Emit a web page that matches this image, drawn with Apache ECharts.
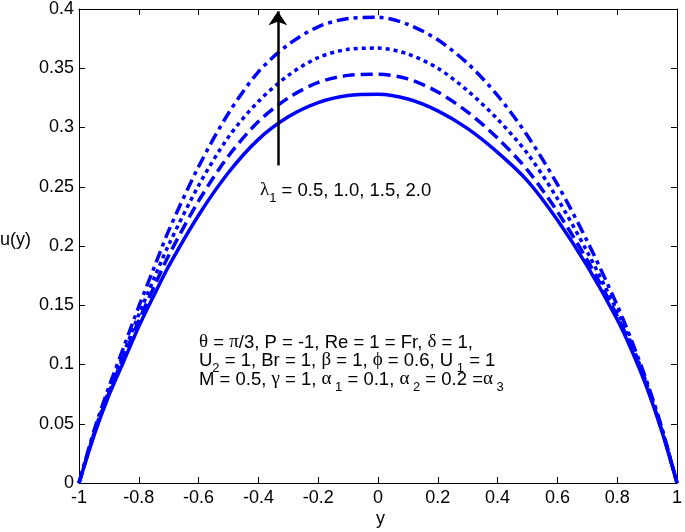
<!DOCTYPE html>
<html lang="en">
<head>
  <meta charset="UTF-8">
  <title>u(y) profiles</title>
  <script src="https://cdn.jsdelivr.net/npm/echarts@6/dist/echarts.min.js"></script>
</head>
<body style="margin:0">
<div id="main" style="width: 685px;height:532px;"></div>
<script>
  // y positions (x axis)
  var ys = [-1, -0.95, -0.9, -0.85, -0.8, -0.75, -0.7, -0.6, -0.5, -0.4, -0.3, -0.2, -0.1, 0,
            0.1, 0.2, 0.3, 0.4, 0.5, 0.6, 0.7, 0.8, 0.85, 0.9, 0.95, 1];
  // u(y) for lambda1 = 0.5, 1.0, 1.5, 2.0
  var uL05 = [0, 0.040, 0.074, 0.103, 0.132, 0.158, 0.183, 0.226, 0.262, 0.290, 0.309, 0.321, 0.327, 0.328,
              0.324, 0.314, 0.299, 0.279, 0.255, 0.222, 0.183, 0.138, 0.111, 0.080, 0.043, 0];
  var uL10 = [0, 0.041, 0.076, 0.107, 0.137, 0.165, 0.192, 0.238, 0.276, 0.305, 0.325, 0.338, 0.344, 0.345,
              0.341, 0.330, 0.313, 0.291, 0.264, 0.229, 0.188, 0.141, 0.113, 0.081, 0.044, 0];
  var uL15 = [0, 0.042, 0.078, 0.110, 0.142, 0.172, 0.201, 0.251, 0.292, 0.322, 0.344, 0.359, 0.366, 0.367,
              0.362, 0.350, 0.331, 0.307, 0.278, 0.240, 0.195, 0.145, 0.116, 0.083, 0.045, 0];
  var uL20 = [0, 0.044, 0.081, 0.115, 0.149, 0.181, 0.213, 0.267, 0.312, 0.347, 0.370, 0.385, 0.392, 0.393,
              0.387, 0.374, 0.354, 0.327, 0.293, 0.252, 0.204, 0.150, 0.119, 0.085, 0.046, 0];

  var blue = '#0000ff';
  var font = 'Liberation Sans';

  function pairs(vals) {
    return ys.map(function (y, i) { return [y, vals[i]]; });
  }
  function curve(name, vals, dash) {
    return {
      name: name,
      type: 'line',
      data: pairs(vals),
      showSymbol: false,
      smooth: 0.3,
      animation: false,
      lineStyle: { color: blue, width: 3.5, type: dash, cap: 'butt' }
    };
  }

  var frameAxis = {
    axisLine: { show: true, onZero: false, lineStyle: { color: '#000', width: 1 } },
    axisTick: { show: true, inside: true, length: 6, lineStyle: { color: '#000' } },
    splitLine: { show: false }
  };

  // rich text styles: g = greek, n = normal, s = subscript
  var richStyles = {
    g: { fontSize: 19, fontFamily: 'Liberation Serif', fill: '#000', verticalAlign: 'top', lineHeight: 20 },
    n: { fontSize: 18.5, fontFamily: font, fill: '#000', verticalAlign: 'top', lineHeight: 20 },
    s: { fontSize: 13, fontFamily: font, fill: '#000', verticalAlign: 'bottom', lineHeight: 24 }
  };
  function note(left, top, text) {
    return { type: 'text', left: left, top: top, style: { text: text, rich: richStyles } };
  }

  var myChart = echarts.init(document.getElementById('main'));
  var series = [
    curve('λ1 = 0.5', uL05, 'solid'),
    curve('λ1 = 1.0', uL10, [12, 6]),
    curve('λ1 = 1.5', uL15, [4, 4]),
    curve('λ1 = 2.0', uL20, [12, 5, 4, 5])
  ];
  // arrow showing increasing lambda1
  series[0].clip = false;
  series[0].markLine = {
    silent: true,
    symbol: ['none', 'arrow'],
    symbolSize: 14,
    label: { show: false },
    lineStyle: { color: '#000', width: 2.5, type: 'solid' },
    data: [[{ coord: [-0.335, 0.268] }, { coord: [-0.335, 0.398] }]]
  };

  var option = {
    animation: false,
    grid: { left: 79, right: 3, top: 8, bottom: 49 },
    xAxis: [
      Object.assign({
        type: 'value', min: -1, max: 1, interval: 0.2,
        axisLabel: { color: '#000', fontSize: 18, fontFamily: font, margin: 6 }
      }, frameAxis),
      Object.assign({
        type: 'value', position: 'top', min: -1, max: 1, interval: 0.2,
        axisLabel: { show: false }
      }, frameAxis)
    ],
    yAxis: [
      Object.assign({
        type: 'value', min: 0, max: 0.4, interval: 0.05,
        axisLabel: { color: '#000', fontSize: 18, fontFamily: font, margin: 5 }
      }, frameAxis),
      Object.assign({
        type: 'value', position: 'right', min: 0, max: 0.4, interval: 0.05,
        axisLabel: { show: false }
      }, frameAxis)
    ],
    series: series,
    graphic: [
      { type: 'text', left: 0, top: 231,
        style: { text: 'u(y)', fill: '#000', font: '18px ' + font } },
      { type: 'text', left: 376, top: 510,
        style: { text: 'y', fill: '#000', font: '18px ' + font } },
      note(260, 181, '{g|λ}{s|1}{n| = 0.5, 1.0, 1.5, 2.0}'),
      note(199, 333, '{g|θ}{n| = }{g|π}{n|/3, P = -1, Re = 1 = Fr, }{g|δ}{n| = 1,}'),
      note(199, 351, '{n|U}{s|2}{n| = 1, Br = 1, }{g|β}{n| = 1, }{g|ϕ}{n| = 0.6, U}{s| 1}{n| = 1}'),
      note(199, 370, '{n|M = 0.5, }{g|γ}{n| = 1, }{g|α}{s| 1}{n| = 0.1, }{g|α}{s| 2}{n| = 0.2 =}{g|α}{s| 3}')
    ]
  };
  myChart.setOption(option);
</script>
</body>
</html>
